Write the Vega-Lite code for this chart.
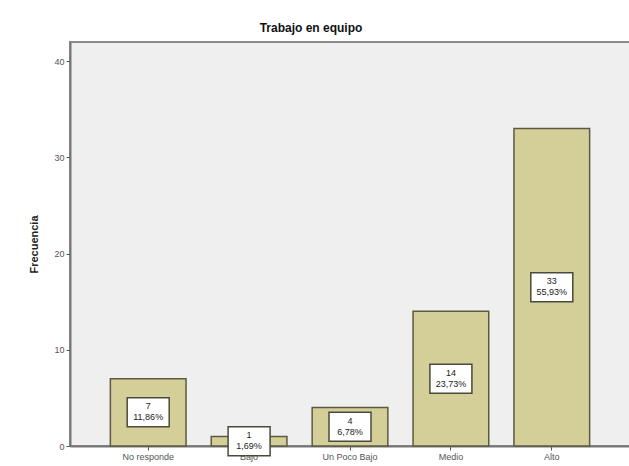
{
  "$schema": "https://vega.github.io/schema/vega-lite/v6.json",
  "width": 560,
  "height": 404,
  "autosize": {"type": "none"},
  "padding": {"left": 70, "top": 42, "right": 0, "bottom": 20},
  "background": "#ffffff",
  "title": {"text": "Trabajo en equipo", "font": "Liberation Sans", "fontSize": 12, "fontWeight": "bold", "color": "#111", "offset": 7, "dx": -39},
  "config": {
    "view": {"fill": "#efefef", "stroke": "#8a8a8a", "strokeWidth": 2},
    "axis": {"labelFont": "Liberation Sans", "titleFont": "Liberation Sans", "labelColor": "#555", "domainColor": "#777", "tickColor": "#555", "grid": false}
  },
  "data": {"values": [
    {"cat": "No responde", "n": 7, "pct": "11,86%"},
    {"cat": "Bajo", "n": 1, "pct": "1,69%"},
    {"cat": "Un Poco Bajo", "n": 4, "pct": "6,78%"},
    {"cat": "Medio", "n": 14, "pct": "23,73%"},
    {"cat": "Alto", "n": 33, "pct": "55,93%"}
  ]},
  "transform": [{"calculate": "datum.n / 2", "as": "mid"}],
  "encoding": {
    "x": {"field": "cat", "type": "nominal", "sort": null,
      "scale": {"paddingInner": 0.25, "paddingOuter": 0.4},
      "axis": {"title": null, "labelAngle": 0, "labelFontSize": 9, "tickSize": 4, "domainWidth": 2, "labelPadding": 2}}
  },
  "layer": [
    {
      "mark": {"type": "bar", "fill": "#d4cf98", "stroke": "#5b5a40", "strokeWidth": 1.5},
      "encoding": {
        "y": {"field": "n", "type": "quantitative",
          "scale": {"domain": [0, 42], "nice": false},
          "axis": {"values": [0, 10, 20, 30, 40], "title": "Frecuencia", "titleFontSize": 11, "titleFontWeight": "bold", "titleColor": "#222", "labelFontSize": 9, "tickSize": 4, "domainWidth": 2, "titlePadding": 14}}
      }
    },
    {
      "mark": {"type": "point", "shape": "M-1,-0.69L1,-0.69L1,0.69L-1,0.69Z", "size": 1764, "filled": false, "fill": "#ffffff", "fillOpacity": 1, "stroke": "#4a4a3a", "strokeWidth": 1.5, "opacity": 1},
      "encoding": {"y": {"field": "mid", "type": "quantitative"}}
    },
    {
      "mark": {"type": "text", "font": "Liberation Sans", "fontSize": 9, "color": "#222", "dy": -6},
      "encoding": {"y": {"field": "mid", "type": "quantitative"}, "text": {"field": "n"}}
    },
    {
      "mark": {"type": "text", "font": "Liberation Sans", "fontSize": 9, "color": "#222", "dy": 5},
      "encoding": {"y": {"field": "mid", "type": "quantitative"}, "text": {"field": "pct"}}
    }
  ]
}
